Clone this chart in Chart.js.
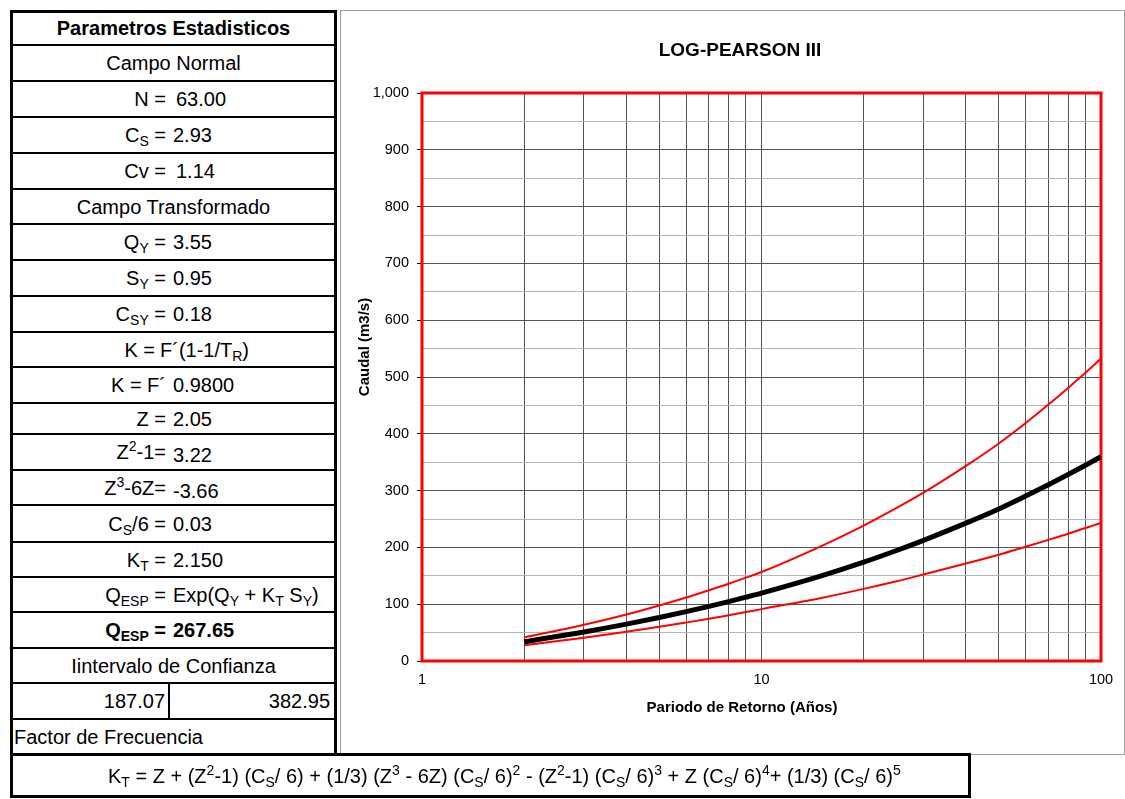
<!DOCTYPE html>
<html lang="es">
<head>
<meta charset="utf-8">
<title>LOG-PEARSON III</title>
<script src="https://cdn.jsdelivr.net/npm/chart.js@4.4.1/dist/chart.umd.min.js"></script>
<style>
  html, body { margin: 0; padding: 0; background: #fff; }
  body { width: 1125px; height: 799px; position: relative; overflow: hidden;
         font-family: "Liberation Sans", Arial, sans-serif; color: #000; }
  .box { position: absolute; box-sizing: border-box; border: 3px solid #000; }
  .hl { position: absolute; left: 10px; width: 327px; height: 2px; background: #000; }
  .vl { position: absolute; width: 2px; background: #000; }
  .row { position: absolute; left: 10px; width: 327px; font-size: 20px; line-height: 1; }
  .row span { position: absolute; top: 50%; transform: translateY(-50%); white-space: pre; }
  .c { left: 0; right: 0; text-align: center; }
  .lab { right: 171px; text-align: right; }
  .val { left: 163px; }
  .b { font-weight: bold; }
  sub { font-size: 14px; vertical-align: -4px; line-height: 0; }
  sup { font-size: 14px; vertical-align: 8px; line-height: 0; }
  #panel { position: absolute; left: 340px; top: 10px; width: 785px; height: 745px;
           box-sizing: border-box; border: 1px solid #a0a0a0; background: #fff; }
  #grafico { position: absolute; left: 340px; top: 10px; }
  #formula { position: absolute; left: 108px; top: 765px; font-size: 20px; white-space: nowrap; line-height: 22px; }
  #formula sub { font-size: 14px; vertical-align: -4px; }
  #formula sup { font-size: 14px; vertical-align: 8px; }
</style>
</head>
<body>
<div id="panel"></div>
<canvas id="grafico" width="785" height="745"></canvas>

<!-- tabla de parametros -->
<div class="box" style="left:10px;top:10px;width:327px;height:746px;"></div>
<div id="filas"></div>

<!-- factor de frecuencia -->
<div class="box" style="left:10px;top:753px;width:961px;height:45px;"></div>
<div id="formula">K<sub>T</sub> = Z + (Z<sup>2</sup>-1) (C<sub>S</sub>/ 6) + (1/3) (Z<sup>3</sup> - 6Z) (C<sub>S</sub>/ 6)<sup>2</sup> - (Z<sup>2</sup>-1) (C<sub>S</sub>/ 6)<sup>3</sup> + Z (C<sub>S</sub>/ 6)<sup>4</sup>+ (1/3) (C<sub>S</sub>/ 6)<sup>5</sup></div>

<script>
// Periodos de retorno (años) y caudales (m3/s) de la distribución Log-Pearson III
const returnPeriods  = [2, 3, 4, 5, 6, 7, 8, 9, 10, 15, 20, 25, 30, 40, 50, 60, 70, 80, 90, 100];
const caudalMedio    = [33.8, 51.2, 65.0, 76.7, 87.0, 96.2, 104.6, 112.4, 119.6, 149.9, 174.0, 194.5, 212.4, 242.7, 267.65, 290.4, 310.3, 328.2, 344.6, 359.8];
const limiteSuperior = [41.4, 63.7, 81.9, 97.8, 111.8, 124.6, 136.0, 146.7, 156.7, 202.4, 238.4, 269.4, 296.3, 343.4, 382.95, 419.0, 451.5, 480.8, 507.3, 532.5];
const limiteInferior = [27.6, 41.1, 51.6, 60.2, 67.7, 74.3, 80.5, 86.1, 91.3, 111.0, 127.0, 140.4, 152.3, 171.5, 187.07, 201.2, 213.3, 224.0, 234.1, 243.1];

// Ejes
const xGridValues  = [1, 2, 3, 4, 5, 6, 7, 8, 9, 10, 20, 30, 40, 50, 60, 70, 80, 90, 100];
const xLabelValues = [1, 10, 100];
const yMin = 0, yMax = 1000, yStep = 50, yLabelStep = 100;

// Filas de la tabla: [tipo, etiqueta, valor, desplazamiento x, desplazamiento y, peso]
const rowEdges = [10, 45, 81, 117, 153, 189, 224, 260, 296, 332, 367, 403, 434, 470, 505, 542, 577, 612, 648, 683, 719, 754];
const tableRows = [
  ['c', 'Parametros Estadisticos', null, 'b'],
  ['c', 'Campo Normal'],
  ['p', 'N =', '63.00', 3],
  ['p', 'C<sub>S</sub> =', '2.93'],
  ['p', 'Cv =', '1.14', 3],
  ['c', 'Campo Transformado'],
  ['p', 'Q<sub>Y</sub> =', '3.55'],
  ['p', 'S<sub>Y</sub> =', '0.95'],
  ['p', 'C<sub>SY</sub> =', '0.18'],
  ['k', 'K =', 'F´(1-1/T<sub>R</sub>)'],
  ['p', 'K = F´', '0.9800'],
  ['p', 'Z =', '2.05'],
  ['p', 'Z<sup>2</sup>-1=', '3.22', 0, 3],
  ['p', 'Z<sup>3</sup>-6Z=', '-3.66', 0, 3],
  ['p', 'C<sub>S</sub>/6 =', '0.03'],
  ['p', 'K<sub>T</sub> =', '2.150'],
  ['p', 'Q<sub>ESP</sub> =', 'Exp(Q<sub>Y</sub> + K<sub>T</sub> S<sub>Y</sub>)'],
  ['p', 'Q<sub>ESP</sub> =', '267.65', 0, 0, 'b'],
  ['c', 'Iintervalo de Confianza'],
  ['i', '187.07', '382.95'],
  ['l', 'Factor de Frecuencia']
];

const filas = document.getElementById('filas');
tableRows.forEach((r, i) => {
  const top = rowEdges[i], h = rowEdges[i + 1] - top;
  const row = document.createElement('div');
  row.className = 'row';
  row.style.top = top + 'px';
  row.style.height = h + 'px';
  const [tipo, a, b, extra, drop, peso] = r;
  if (tipo === 'c') {
    row.innerHTML = `<span class="c ${extra === 'b' ? 'b' : ''}">${a}</span>`;
  } else if (tipo === 'p') {
    const cls = peso === 'b' ? ' b' : '';
    const dx = extra || 0, dy = drop || 0;
    row.innerHTML = `<span class="lab${cls}">${a}</span>` +
      `<span class="val${cls}" style="left:${163 + dx}px;margin-top:${dy}px">${b}</span>`;
  } else if (tipo === 'k') {
    row.innerHTML = `<span style="right:182px">${a}</span><span style="left:150px">${b}</span>`;
  } else if (tipo === 'i') {
    row.innerHTML = `<span style="right:172px">${a}</span><span style="right:7px">${b}</span>`;
  } else if (tipo === 'l') {
    row.innerHTML = `<span style="left:4px">${a}</span>`;
  }
  filas.appendChild(row);
  if (i < tableRows.length - 1) {
    const line = document.createElement('div');
    line.className = 'hl';
    line.style.top = (rowEdges[i + 1] - 1) + 'px';
    filas.appendChild(line);
  }
});
// separador del intervalo de confianza
const sep = document.createElement('div');
sep.className = 'vl';
sep.style.left = '168px';
sep.style.top = rowEdges[19] + 'px';
sep.style.height = (rowEdges[20] - rowEdges[19]) + 'px';
filas.appendChild(sep);

// Marco rojo del área de trazado y títulos
const marcoYTitulos = {
  id: 'marcoYTitulos',
  beforeDatasetsDraw(chart) {
    const { ctx, chartArea: a } = chart;
    ctx.save();
    ctx.strokeStyle = '#ff0000';
    ctx.lineWidth = 3;
    ctx.strokeRect(a.left, a.top, a.right - a.left, a.bottom - a.top);
    ctx.restore();
  },
  afterDraw(chart) {
    const { ctx } = chart;
    ctx.save();
    ctx.fillStyle = '#000';
    ctx.textAlign = 'center';
    ctx.textBaseline = 'middle';
    ctx.font = 'bold 19px "Liberation Sans", Arial, sans-serif';
    ctx.fillText('LOG-PEARSON III', 400, 41);
    ctx.font = 'bold 15px "Liberation Sans", Arial, sans-serif';
    ctx.fillText('Pariodo de Retorno (Años)', 402, 698);
    ctx.translate(25, 337);
    ctx.rotate(-Math.PI / 2);
    ctx.fillText('Caudal (m3/s)', 0, 0);
    ctx.restore();
  }
};

const toPoints = vals => returnPeriods.map((t, i) => ({ x: t, y: vals[i] }));

new Chart(document.getElementById('grafico'), {
  type: 'line',
  data: {
    datasets: [
      { label: 'Caudal', data: toPoints(caudalMedio), borderColor: '#000', borderWidth: 5,
        pointRadius: 0, cubicInterpolationMode: 'monotone', fill: false },
      { label: 'Límite superior', data: toPoints(limiteSuperior), borderColor: '#ff0000', borderWidth: 2,
        pointRadius: 0, cubicInterpolationMode: 'monotone', fill: false },
      { label: 'Límite inferior', data: toPoints(limiteInferior), borderColor: '#ff0000', borderWidth: 2,
        pointRadius: 0, cubicInterpolationMode: 'monotone', fill: false }
    ]
  },
  options: {
    responsive: false,
    animation: false,
    devicePixelRatio: 1,
    layout: { padding: { top: 83, right: 24, bottom: 0, left: 0 } },
    plugins: { legend: { display: false }, tooltip: { enabled: false }, title: { display: false } },
    scales: {
      x: {
        type: 'logarithmic',
        min: 1, max: 100,
        afterBuildTicks: s => { s.ticks = xGridValues.map(v => ({ value: v })); },
        afterFit: s => { s.height = 94; },
        ticks: {
          autoSkip: false, maxRotation: 0, padding: 10,
          color: '#000', font: { size: 14.5, family: '"Liberation Sans", Arial, sans-serif' },
          callback: v => xLabelValues.includes(v) ? String(v) : ''
        },
        grid: { color: '#555', lineWidth: 1, drawTicks: false },
        border: { display: false }
      },
      y: {
        type: 'linear',
        min: yMin, max: yMax,
        afterFit: s => { s.width = 82; },
        ticks: {
          stepSize: yStep, autoSkip: false, padding: 8,
          color: '#000', font: { size: 14.5, family: '"Liberation Sans", Arial, sans-serif' },
          callback: v => v % yLabelStep === 0 ? v.toLocaleString('en-US') : ''
        },
        grid: {
          color: c => c.tick && c.tick.value % yLabelStep === 0 ? '#555' : '#b4b4b4',
          tickColor: c => c.tick && c.tick.value % yLabelStep === 0 ? '#000' : 'rgba(0,0,0,0)',
          tickLength: 5, lineWidth: 1
        },
        border: { display: false }
      }
    }
  },
  plugins: [marcoYTitulos]
});
</script>
</body>
</html>
